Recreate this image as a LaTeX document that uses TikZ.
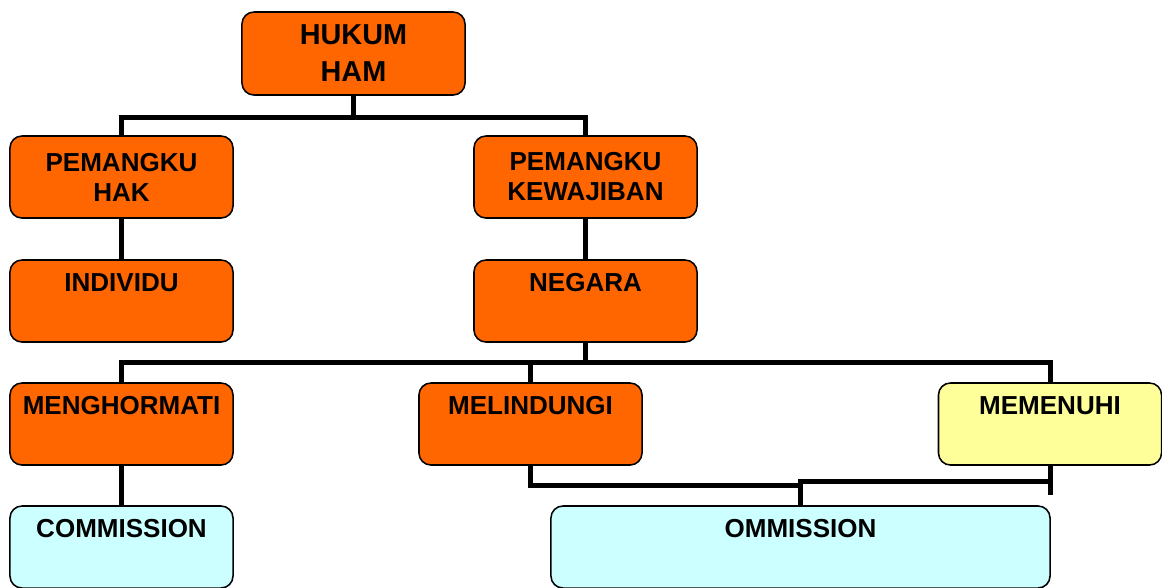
\documentclass[tikz,border=0pt]{standalone}
\usepackage{fontspec}
\setmainfont{Liberation Sans}
\usepackage{tikz}
\usetikzlibrary{positioning}

\definecolor{jingga}{HTML}{FF6600}
\definecolor{kuning}{HTML}{FFFF99}
\definecolor{biru}{HTML}{CCFFFF}

\begin{document}
\begin{tikzpicture}[x = 0.025cm, y = -0.025cm,
  kotak/.style = {draw, line width = 1.1pt, shape = rectangle, rounded corners = 0.3cm,
    minimum width = 5.575cm, minimum height = 2.05cm, inner xsep = 0pt,
    font = \bfseries\fontsize{18.5pt}{21.3pt}\selectfont, align = center},
  atas/.style = {inner ysep = 0pt, text height = 0.775cm, text depth = 1.275cm},
  garis/.style = {line width = 0.125cm}]
\useasboundingbox (0,0) rectangle (1162,587);
% level 0
\node[kotak, fill = jingga, minimum height = 2.075cm,
  font = \bfseries\fontsize{20.5pt}{26.3pt}\selectfont] (hukum) at (353.5,53.5) {HUKUM\\HAM};
% pemangku
\node[kotak, fill = jingga] (pkhak) at (121.5,177) {PEMANGKU\\HAK};
\node[kotak, fill = jingga] (pkwajib) at (585.5,177) {PEMANGKU\\KEWAJIBAN};
\node[kotak, atas, fill = jingga] (individu) at (121.5,301) {INDIVIDU};
\node[kotak, atas, fill = jingga] (negara) at (585.5,301) {NEGARA};
% kewajiban negara
\node[kotak, atas, fill = jingga] (hormati) at (121.5,424) {MENGHORMATI};
\node[kotak, atas, fill = jingga] (lindungi) at (530.5,424) {MELINDUNGI};
\node[kotak, atas, fill = kuning] (penuhi) at (1050,424) {MEMENUHI};
\node[kotak, atas, fill = biru] (commission) at (121.5,547) {COMMISSION};
\node[kotak, atas, fill = biru, minimum width = 12.475cm] (ommission) at (800.5,547) {OMMISSION};

\draw[garis] (hukum.south) -- ++(0,22) coordinate (c1);
\draw[garis] (pkhak.north) |- (c1) -| (pkwajib.north);
\draw[garis] (pkhak) -- (individu);
\draw[garis] (pkwajib) -- (negara);
\draw[garis] (negara.south) -- ++(0,20) coordinate (c2);
\draw[garis] (hormati.north) |- (c2) -| (penuhi.north);
\draw[garis] (lindungi.north) -- (lindungi.north |- c2);
\draw[garis] (hormati) -- (commission);
\draw[garis] (lindungi.south) -- ++(0,20) -| (ommission.north);
\draw[garis] (ommission.north) -- ++(0,-24) coordinate (c3) -- (c3 -| penuhi.south);
\draw[garis] (penuhi.south) -- ++(0,29);
\end{tikzpicture}
\end{document}
